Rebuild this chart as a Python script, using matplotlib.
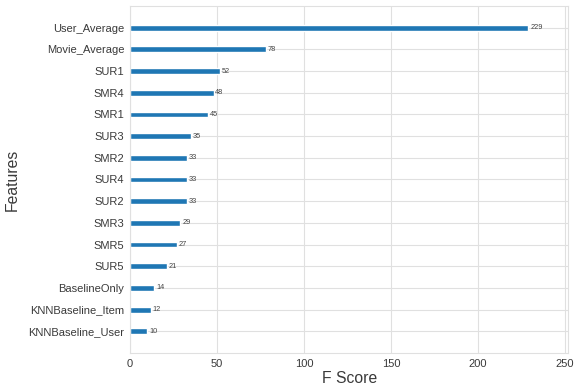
import matplotlib
matplotlib.use("Agg")
import matplotlib.pyplot as plt
import seaborn as sns

# feature importance (F score) per feature, lowest first
features = ['KNNBaseline_User', 'KNNBaseline_Item', 'BaselineOnly', 'SUR5', 'SMR5',
            'SMR3', 'SUR2', 'SUR4', 'SMR2', 'SUR3', 'SMR1', 'SMR4', 'SUR1',
            'Movie_Average', 'User_Average']
f_scores = [10, 12, 14, 21, 27, 29, 33, 33, 33, 35, 45, 48, 52, 78, 229]
x_ticks = [0, 50, 100, 150, 200, 250]

sns.set_style('whitegrid')
plt.rcParams['font.family'] = ['Liberation Sans', 'DejaVu Sans']

fig = plt.figure(figsize=(5.74, 3.9), dpi=100)
ax = fig.add_axes([0.2265, 0.095, 0.7635, 0.8895])

ylocs = range(len(features))
ax.barh(ylocs, f_scores, height=0.27, color='#1f77b4', align='center')
for y, v in zip(ylocs, f_scores):
    ax.text(v + 1, y, str(v), va='center', fontsize=5.3, color='#444444')

ax.set_yticks(list(ylocs))
ax.set_yticklabels(features)
ax.set_xticks(x_ticks)
ax.set_xlim(0, max(f_scores) * 1.1)
ax.set_ylim(-1, len(features))

ax.tick_params(axis='both', labelsize=8, colors='#3a3a3a', length=0, pad=4)
ax.set_xlabel('F Score', fontsize=11.3, color='#3a3a3a', labelpad=2)
ax.set_ylabel('Features', fontsize=11.3, color='#3a3a3a', labelpad=6)
ax.grid(True, color='#e0e0e0', linewidth=0.8)
for s in ax.spines.values():
    s.set_color('#e0e0e0')

fig.savefig('out.png', dpi=100)
